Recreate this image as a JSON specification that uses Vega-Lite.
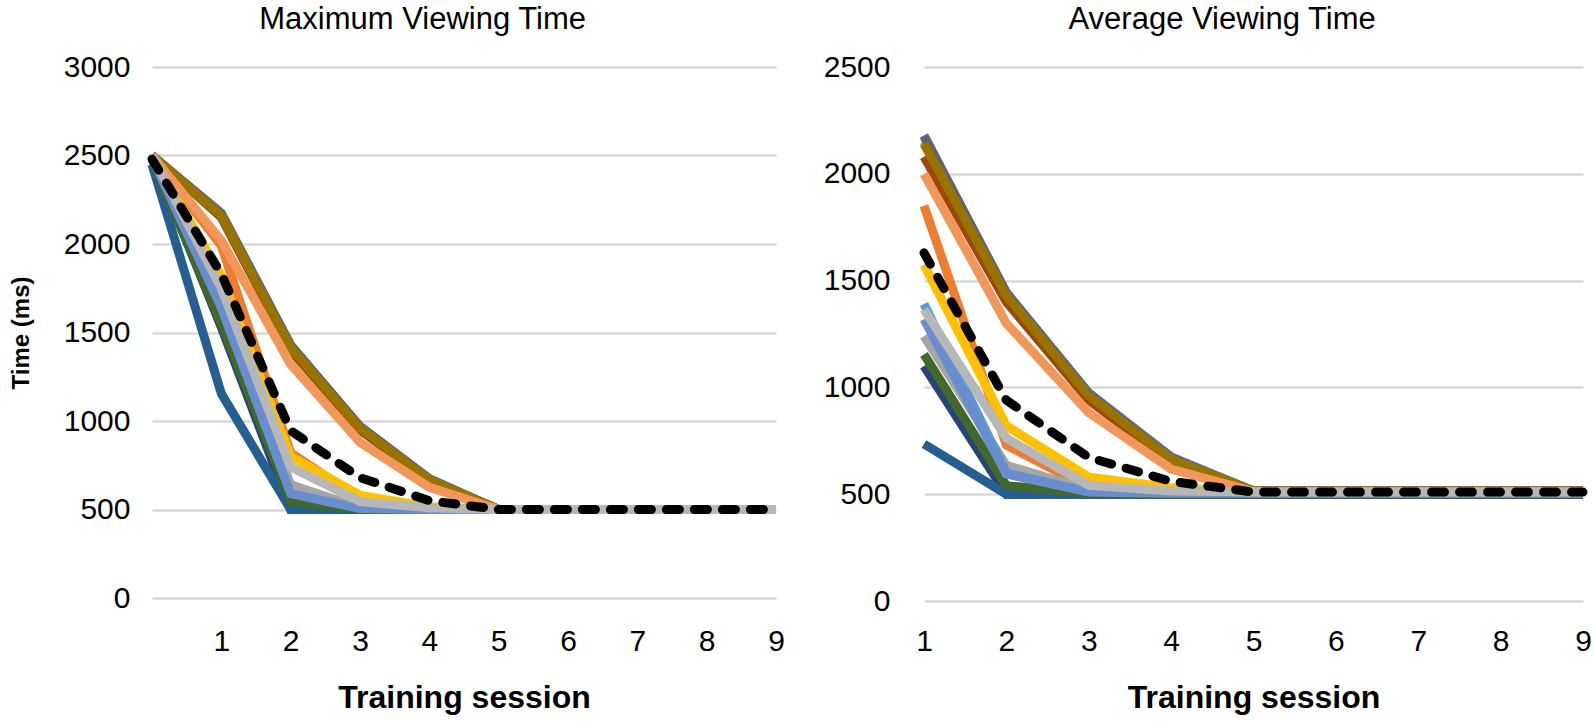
{
  "$schema": "https://vega.github.io/schema/vega-lite/v6.json",
  "padding": {"left": 9, "top": 4, "right": 2, "bottom": 4},
  "background": "white",
  "config": {
    "font": "Liberation Sans",
    "view": {"stroke": null},
    "axis": {"domain": false, "ticks": false, "labelFlush": false, "gridColor": "#d9d9d9", "gridWidth": 2.5, "labelFontSize": 30, "labelColor": "#000000", "titleColor": "#000000", "labelFont": "Liberation Sans", "titleFont": "Liberation Sans"},
    "axisY": {"titleFontSize": 24, "titleFontWeight": "bold"},
    "axisX": {"titleFontSize": 32, "titleFontWeight": "bold"},
    "title": {"fontSize": 31, "fontWeight": "normal", "color": "#000000", "font": "Liberation Sans", "frame": "bounds"}
  },
  "spacing": 29,
  "datasets": {
    "maxv": [
      {"s":0,"p":"P01","t":2500},{"s":1,"p":"P01","t":2175},{"s":2,"p":"P01","t":1430},{"s":3,"p":"P01","t":970},{"s":4,"p":"P01","t":675},{"s":5,"p":"P01","t":500},{"s":6,"p":"P01","t":500},{"s":7,"p":"P01","t":500},{"s":8,"p":"P01","t":500},{"s":9,"p":"P01","t":500},
      {"s":0,"p":"P02","t":2500},{"s":1,"p":"P02","t":1990},{"s":2,"p":"P02","t":820},{"s":3,"p":"P02","t":560},{"s":4,"p":"P02","t":505},{"s":5,"p":"P02","t":500},{"s":6,"p":"P02","t":500},{"s":7,"p":"P02","t":500},{"s":8,"p":"P02","t":500},{"s":9,"p":"P02","t":500},
      {"s":0,"p":"P03","t":2500},{"s":1,"p":"P03","t":1700},{"s":2,"p":"P03","t":640},{"s":3,"p":"P03","t":510},{"s":4,"p":"P03","t":500},{"s":5,"p":"P03","t":500},{"s":6,"p":"P03","t":500},{"s":7,"p":"P03","t":500},{"s":8,"p":"P03","t":500},{"s":9,"p":"P03","t":500},
      {"s":0,"p":"P04","t":2500},{"s":1,"p":"P04","t":1820},{"s":2,"p":"P04","t":800},{"s":3,"p":"P04","t":580},{"s":4,"p":"P04","t":515},{"s":5,"p":"P04","t":500},{"s":6,"p":"P04","t":500},{"s":7,"p":"P04","t":500},{"s":8,"p":"P04","t":500},{"s":9,"p":"P04","t":500},
      {"s":0,"p":"P05","t":2500},{"s":1,"p":"P05","t":1600},{"s":2,"p":"P05","t":575},{"s":3,"p":"P05","t":500},{"s":4,"p":"P05","t":500},{"s":5,"p":"P05","t":500},{"s":6,"p":"P05","t":500},{"s":7,"p":"P05","t":500},{"s":8,"p":"P05","t":500},{"s":9,"p":"P05","t":500},
      {"s":0,"p":"P06","t":2500},{"s":1,"p":"P06","t":2160},{"s":2,"p":"P06","t":1410},{"s":3,"p":"P06","t":955},{"s":4,"p":"P06","t":665},{"s":5,"p":"P06","t":500},{"s":6,"p":"P06","t":500},{"s":7,"p":"P06","t":500},{"s":8,"p":"P06","t":500},{"s":9,"p":"P06","t":500},
      {"s":0,"p":"P07","t":2500},{"s":1,"p":"P07","t":1530},{"s":2,"p":"P07","t":500},{"s":3,"p":"P07","t":500},{"s":4,"p":"P07","t":500},{"s":5,"p":"P07","t":500},{"s":6,"p":"P07","t":500},{"s":7,"p":"P07","t":500},{"s":8,"p":"P07","t":500},{"s":9,"p":"P07","t":500},
      {"s":0,"p":"P08","t":2500},{"s":1,"p":"P08","t":2150},{"s":2,"p":"P08","t":1400},{"s":3,"p":"P08","t":950},{"s":4,"p":"P08","t":660},{"s":5,"p":"P08","t":500},{"s":6,"p":"P08","t":500},{"s":7,"p":"P08","t":500},{"s":8,"p":"P08","t":500},{"s":9,"p":"P08","t":500},
      {"s":0,"p":"P09","t":2500},{"s":1,"p":"P09","t":2170},{"s":2,"p":"P09","t":1425},{"s":3,"p":"P09","t":968},{"s":4,"p":"P09","t":672},{"s":5,"p":"P09","t":500},{"s":6,"p":"P09","t":500},{"s":7,"p":"P09","t":500},{"s":8,"p":"P09","t":500},{"s":9,"p":"P09","t":500},
      {"s":0,"p":"P10","t":2500},{"s":1,"p":"P10","t":2160},{"s":2,"p":"P10","t":1415},{"s":3,"p":"P10","t":960},{"s":4,"p":"P10","t":668},{"s":5,"p":"P10","t":500},{"s":6,"p":"P10","t":500},{"s":7,"p":"P10","t":500},{"s":8,"p":"P10","t":500},{"s":9,"p":"P10","t":500},
      {"s":0,"p":"P11","t":2450},{"s":1,"p":"P11","t":1155},{"s":2,"p":"P11","t":500},{"s":3,"p":"P11","t":500},{"s":4,"p":"P11","t":500},{"s":5,"p":"P11","t":500},{"s":6,"p":"P11","t":500},{"s":7,"p":"P11","t":500},{"s":8,"p":"P11","t":500},{"s":9,"p":"P11","t":500},
      {"s":0,"p":"P12","t":2480},{"s":1,"p":"P12","t":1550},{"s":2,"p":"P12","t":545},{"s":3,"p":"P12","t":500},{"s":4,"p":"P12","t":500},{"s":5,"p":"P12","t":500},{"s":6,"p":"P12","t":500},{"s":7,"p":"P12","t":500},{"s":8,"p":"P12","t":500},{"s":9,"p":"P12","t":500},
      {"s":0,"p":"P13","t":2490},{"s":1,"p":"P13","t":1640},{"s":2,"p":"P13","t":590},{"s":3,"p":"P13","t":505},{"s":4,"p":"P13","t":500},{"s":5,"p":"P13","t":500},{"s":6,"p":"P13","t":500},{"s":7,"p":"P13","t":500},{"s":8,"p":"P13","t":500},{"s":9,"p":"P13","t":500},
      {"s":0,"p":"P14","t":2500},{"s":1,"p":"P14","t":2020},{"s":2,"p":"P14","t":1320},{"s":3,"p":"P14","t":880},{"s":4,"p":"P14","t":625},{"s":5,"p":"P14","t":500},{"s":6,"p":"P14","t":500},{"s":7,"p":"P14","t":500},{"s":8,"p":"P14","t":500},{"s":9,"p":"P14","t":500},
      {"s":0,"p":"P15","t":2500},{"s":1,"p":"P15","t":1750},{"s":2,"p":"P15","t":740},{"s":3,"p":"P15","t":545},{"s":4,"p":"P15","t":510},{"s":5,"p":"P15","t":500},{"s":6,"p":"P15","t":500},{"s":7,"p":"P15","t":500},{"s":8,"p":"P15","t":500},{"s":9,"p":"P15","t":500},
      {"s":0,"p":"Mean","t":2480},{"s":1,"p":"Mean","t":1830},{"s":2,"p":"Mean","t":945},{"s":3,"p":"Mean","t":680},{"s":4,"p":"Mean","t":550},{"s":5,"p":"Mean","t":500},{"s":6,"p":"Mean","t":500},{"s":7,"p":"Mean","t":500},{"s":8,"p":"Mean","t":500},{"s":9,"p":"Mean","t":500}
    ],
    "avgv": [
      {"s":1,"p":"P01","t":2180},{"s":2,"p":"P01","t":1445},{"s":3,"p":"P01","t":975},{"s":4,"p":"P01","t":675},{"s":5,"p":"P01","t":515},{"s":6,"p":"P01","t":515},{"s":7,"p":"P01","t":515},{"s":8,"p":"P01","t":515},{"s":9,"p":"P01","t":515},
      {"s":1,"p":"P02","t":1850},{"s":2,"p":"P02","t":730},{"s":3,"p":"P02","t":530},{"s":4,"p":"P02","t":510},{"s":5,"p":"P02","t":510},{"s":6,"p":"P02","t":510},{"s":7,"p":"P02","t":510},{"s":8,"p":"P02","t":510},{"s":9,"p":"P02","t":510},
      {"s":1,"p":"P03","t":1240},{"s":2,"p":"P03","t":635},{"s":3,"p":"P03","t":520},{"s":4,"p":"P03","t":510},{"s":5,"p":"P03","t":510},{"s":6,"p":"P03","t":510},{"s":7,"p":"P03","t":510},{"s":8,"p":"P03","t":510},{"s":9,"p":"P03","t":510},
      {"s":1,"p":"P04","t":1575},{"s":2,"p":"P04","t":820},{"s":3,"p":"P04","t":580},{"s":4,"p":"P04","t":530},{"s":5,"p":"P04","t":510},{"s":6,"p":"P04","t":510},{"s":7,"p":"P04","t":510},{"s":8,"p":"P04","t":510},{"s":9,"p":"P04","t":510},
      {"s":1,"p":"P05","t":1390},{"s":2,"p":"P05","t":600},{"s":3,"p":"P05","t":510},{"s":4,"p":"P05","t":505},{"s":5,"p":"P05","t":505},{"s":6,"p":"P05","t":505},{"s":7,"p":"P05","t":505},{"s":8,"p":"P05","t":505},{"s":9,"p":"P05","t":505},
      {"s":1,"p":"P06","t":2150},{"s":2,"p":"P06","t":1430},{"s":3,"p":"P06","t":960},{"s":4,"p":"P06","t":665},{"s":5,"p":"P06","t":515},{"s":6,"p":"P06","t":515},{"s":7,"p":"P06","t":515},{"s":8,"p":"P06","t":515},{"s":9,"p":"P06","t":515},
      {"s":1,"p":"P07","t":1100},{"s":2,"p":"P07","t":500},{"s":3,"p":"P07","t":500},{"s":4,"p":"P07","t":500},{"s":5,"p":"P07","t":500},{"s":6,"p":"P07","t":500},{"s":7,"p":"P07","t":500},{"s":8,"p":"P07","t":500},{"s":9,"p":"P07","t":500},
      {"s":1,"p":"P08","t":2080},{"s":2,"p":"P08","t":1400},{"s":3,"p":"P08","t":940},{"s":4,"p":"P08","t":650},{"s":5,"p":"P08","t":515},{"s":6,"p":"P08","t":515},{"s":7,"p":"P08","t":515},{"s":8,"p":"P08","t":515},{"s":9,"p":"P08","t":515},
      {"s":1,"p":"P09","t":2175},{"s":2,"p":"P09","t":1440},{"s":3,"p":"P09","t":968},{"s":4,"p":"P09","t":668},{"s":5,"p":"P09","t":515},{"s":6,"p":"P09","t":515},{"s":7,"p":"P09","t":515},{"s":8,"p":"P09","t":515},{"s":9,"p":"P09","t":515},
      {"s":1,"p":"P10","t":2140},{"s":2,"p":"P10","t":1430},{"s":3,"p":"P10","t":962},{"s":4,"p":"P10","t":664},{"s":5,"p":"P10","t":515},{"s":6,"p":"P10","t":515},{"s":7,"p":"P10","t":515},{"s":8,"p":"P10","t":515},{"s":9,"p":"P10","t":515},
      {"s":1,"p":"P11","t":735},{"s":2,"p":"P11","t":500},{"s":3,"p":"P11","t":500},{"s":4,"p":"P11","t":500},{"s":5,"p":"P11","t":500},{"s":6,"p":"P11","t":500},{"s":7,"p":"P11","t":500},{"s":8,"p":"P11","t":500},{"s":9,"p":"P11","t":500},
      {"s":1,"p":"P12","t":1155},{"s":2,"p":"P12","t":540},{"s":3,"p":"P12","t":505},{"s":4,"p":"P12","t":500},{"s":5,"p":"P12","t":500},{"s":6,"p":"P12","t":500},{"s":7,"p":"P12","t":500},{"s":8,"p":"P12","t":500},{"s":9,"p":"P12","t":500},
      {"s":1,"p":"P13","t":1320},{"s":2,"p":"P13","t":594},{"s":3,"p":"P13","t":510},{"s":4,"p":"P13","t":505},{"s":5,"p":"P13","t":505},{"s":6,"p":"P13","t":505},{"s":7,"p":"P13","t":505},{"s":8,"p":"P13","t":505},{"s":9,"p":"P13","t":505},
      {"s":1,"p":"P14","t":2000},{"s":2,"p":"P14","t":1300},{"s":3,"p":"P14","t":882},{"s":4,"p":"P14","t":618},{"s":5,"p":"P14","t":512},{"s":6,"p":"P14","t":512},{"s":7,"p":"P14","t":512},{"s":8,"p":"P14","t":512},{"s":9,"p":"P14","t":512},
      {"s":1,"p":"P15","t":1365},{"s":2,"p":"P15","t":762},{"s":3,"p":"P15","t":541},{"s":4,"p":"P15","t":515},{"s":5,"p":"P15","t":510},{"s":6,"p":"P15","t":510},{"s":7,"p":"P15","t":510},{"s":8,"p":"P15","t":510},{"s":9,"p":"P15","t":510},
      {"s":1,"p":"Mean","t":1630},{"s":2,"p":"Mean","t":940},{"s":3,"p":"Mean","t":672},{"s":4,"p":"Mean","t":560},{"s":5,"p":"Mean","t":510},{"s":6,"p":"Mean","t":510},{"s":7,"p":"Mean","t":510},{"s":8,"p":"Mean","t":510},{"s":9,"p":"Mean","t":510}
    ]
  },
  "hconcat": [
    {
      "title": {"text": "Maximum Viewing Time", "offset": 16, "dx": 21},
      "width": 624,
      "height": 531,
      "data": {"name": "maxv"},
      "encoding": {
        "x": {"field": "s", "type": "quantitative", "scale": {"domain": [0, 9], "nice": false, "zero": false},
              "axis": {"values": [1,2,3,4,5,6,7,8,9], "format": "d", "grid": false, "title": "Training session", "titleFontSize": 32, "titleFontWeight": "bold", "labelPadding": 28, "titlePadding": 26}},
        "y": {"field": "t", "type": "quantitative", "scale": {"domain": [0, 3000], "nice": false},
              "axis": {"values": [0,500,1000,1500,2000,2500,3000], "format": "d", "title": "Time (ms)", "titleFontSize": 24, "titleFontWeight": "bold", "labelPadding": 22, "titlePadding": 30}}
      },
      "layer": [
        {
          "transform": [{"filter": "datum.p !== 'Mean'"}],
          "mark": {"type": "line", "strokeWidth": 9, "strokeJoin": "miter"},
          "encoding": {
            "color": {"field": "p", "type": "nominal", "legend": null,
                      "scale": {"domain": ["P01","P02","P03","P04","P05","P06","P07","P08","P09","P10","P11","P12","P13","P14","P15"],
                                "range": ["#4472C4","#ED7D31","#A5A5A5","#FFC000","#5B9BD5","#70AD47","#264478","#9E480E","#636363","#997300","#255E91","#43682B","#698ED0","#F1975A","#B7B7B7"]}}
          }
        },
        {
          "transform": [{"filter": "datum.p === 'Mean'"}],
          "mark": {"type": "line", "color": "#000000", "strokeWidth": 9, "strokeDash": [13, 15], "strokeCap": "round"},
          "encoding": {}
        }
      ]
    },
    {
      "title": {"text": "Average Viewing Time", "offset": 16, "dx": 10},
      "width": 659,
      "height": 534,
      "data": {"name": "avgv"},
      "encoding": {
        "x": {"field": "s", "type": "quantitative", "scale": {"domain": [1, 9], "nice": false, "zero": false},
              "axis": {"values": [1,2,3,4,5,6,7,8,9], "format": "d", "grid": false, "title": "Training session", "titleFontSize": 32, "titleFontWeight": "bold", "labelPadding": 25, "titlePadding": 26}},
        "y": {"field": "t", "type": "quantitative", "scale": {"domain": [0, 2500], "nice": false},
              "axis": {"values": [0,500,1000,1500,2000,2500], "format": "d", "title": null, "labelPadding": 34}}
      },
      "layer": [
        {
          "transform": [{"filter": "datum.p !== 'Mean'"}],
          "mark": {"type": "line", "strokeWidth": 9, "strokeJoin": "miter"},
          "encoding": {
            "color": {"field": "p", "type": "nominal", "legend": null,
                      "scale": {"domain": ["P01","P02","P03","P04","P05","P06","P07","P08","P09","P10","P11","P12","P13","P14","P15"],
                                "range": ["#4472C4","#ED7D31","#A5A5A5","#FFC000","#5B9BD5","#70AD47","#264478","#9E480E","#636363","#997300","#255E91","#43682B","#698ED0","#F1975A","#B7B7B7"]}}
          }
        },
        {
          "transform": [{"filter": "datum.p === 'Mean'"}],
          "mark": {"type": "line", "color": "#000000", "strokeWidth": 9, "strokeDash": [13, 15], "strokeCap": "round"},
          "encoding": {}
        }
      ]
    }
  ],
  "resolve": {"scale": {"color": "independent"}}
}
